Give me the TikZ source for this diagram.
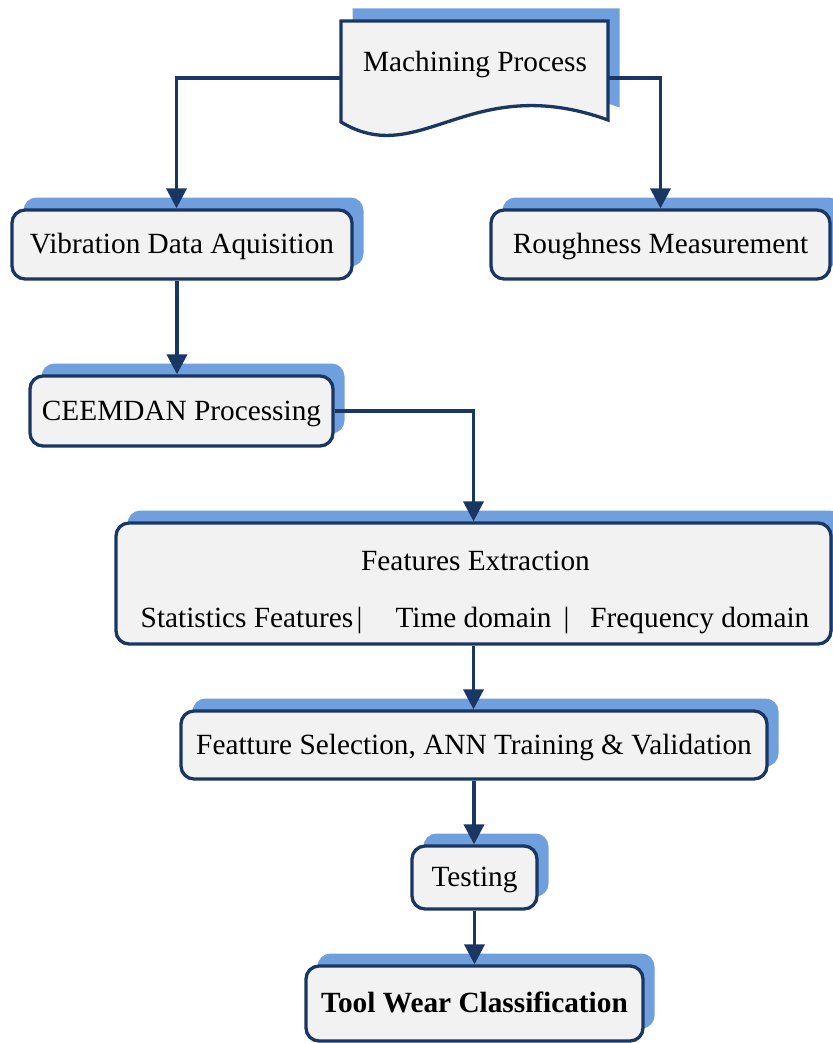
\documentclass[tikz,border=0pt]{standalone}
\usepackage{fontspec}
\setmainfont{Liberation Serif}
\usetikzlibrary{arrows.meta,shadows}
\definecolor{navy}{RGB}{26,54,98}
\definecolor{shadowc}{RGB}{111,159,220}
\definecolor{boxfill}{RGB}{242,242,242}
\begin{document}
\begin{tikzpicture}[x=1pt,y=-1pt,
  every node/.style={font=\fontsize{29.3pt}{35pt}\selectfont},
  box/.style={draw=navy, line width=3.3pt, fill=boxfill, rounded corners=13pt,
    general shadow={shadow xshift=11.5pt, shadow yshift=12.5pt, fill=shadowc},
    inner sep=0pt, text height=22pt, text depth=4pt},
  docshape/.style={fill=boxfill, draw=navy, line width=3.3pt, line join=miter},
  conn/.style={draw=navy, line width=3.6pt, -{Triangle[length=20pt,width=20pt]}},
  lbl/.style={inner sep=0pt, anchor=base}]
\useasboundingbox (0,0) rectangle (832,1043);

% Machining Process (document shape)
\begin{scope}[shift={(11.5,-12.5)}]
  \fill[shadowc] (341,21) -- (608,21) -- (608,120) .. controls (470,70) and (420,170) .. (341,122) -- cycle;
\end{scope}
\path[docshape] (341,21) -- (608,21) -- (608,120) .. controls (470,70) and (420,170) .. (341,122) -- cycle;
\node[inner sep=0pt, outer sep=0pt, minimum width=267pt, minimum height=114pt] (mp) at (474.5,78) {};
\node[lbl] (mptext) at (475,72) {Machining Process};

\node[box, minimum width=340pt, minimum height=69pt] (vda) at (182,244.5) {Vibration Data Aquisition};
\node[box, minimum width=339pt, minimum height=69pt] (rm) at (660.5,244.5) {Roughness Measurement};
\node[box, minimum width=303pt, minimum height=70pt] (cp) at (181.5,411) {CEEMDAN Processing};
\node[box, minimum width=715pt, minimum height=121pt] (fe) at (473.5,583.5) {};
\node[lbl] (fet) at (475.5,570) {Features Extraction};
\node[lbl] (fer) at (475,627) {Statistics Features\hspace{3.5pt}|\hspace{33pt}Time domain\hspace{12pt}|\hspace{21pt}Frequency domain};
\node[box, minimum width=586pt, minimum height=68pt] (fs) at (474,745) {Featture Selection, ANN Training \& Validation};
\node[box, minimum width=125pt, minimum height=63pt] (ts) at (474.5,877.5) {Testing};
\node[box, minimum width=337pt, minimum height=75pt] (tw) at (474.5,1003.5) {\bfseries Tool Wear Classification};

% connectors
\draw[conn] (mp.west) -| ([xshift=-5.5pt]vda.north);
\draw[conn] (mp.east) -| (rm.north);
\draw[conn] ([xshift=-5pt]vda.south) -- ([xshift=-4.5pt]cp.north);
\draw[conn] (cp.east) -| (fe.north);
\draw[conn] (fe.south) -- (fe.south |- fs.north);
\draw[conn] (fs.south) -- (fs.south |- ts.north);
\draw[conn] (ts.south) -- (ts.south |- tw.north);
\end{tikzpicture}
\end{document}
